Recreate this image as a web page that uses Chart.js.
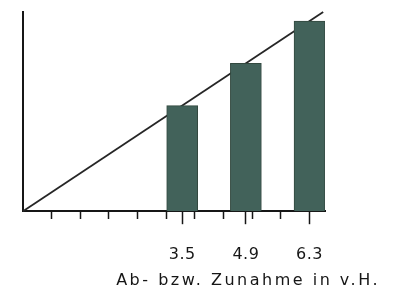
<!DOCTYPE html>
<html>
<head>
<meta charset="utf-8">
<script src="https://cdn.jsdelivr.net/npm/chart.js@4.4.1/dist/chart.umd.min.js"></script>
<style>
    html, body { margin: 0; padding: 0; background: #fff; }
    #wrap { width: 398px; height: 290px; position: relative; }
</style>
</head>
<body>
<div id="wrap"><canvas id="chart"></canvas></div>
<script>
// Values
const barValues = [3.5, 4.9, 6.3];          // x position and height of each bar
const lineX = [0, 6.6];                      // reference line y = x
const lineY = [0, 6.6];
const minorTicks = [0.63, 1.26, 1.89, 2.52, 3.15, 3.78, 4.41, 5.04, 5.67, 6.3];
const majorTicks = [3.5, 4.9, 6.3];
const axisTitle = 'Ab- bzw. Zunahme in v.H.';

const INK = '#161616';
const BAR = '#42625a';

const allTicks = [...new Set([...minorTicks, ...majorTicks])].sort((a, b) => a - b);

// wide lettering for the axis caption, tighter for the numbers (drawn after the bars)
const spacingPlugin = {
    id: 'spacing',
    beforeLayout(chart) { chart.ctx.letterSpacing = '2.5px'; },
    beforeDraw(chart) { chart.ctx.letterSpacing = '2.5px'; },
    afterDatasetsDraw(chart) { chart.ctx.letterSpacing = '0.5px'; }
};

new Chart(document.getElementById('chart'), {
    type: 'bar',
    data: {
        datasets: [
            {
                type: 'bar',
                data: barValues.map(v => ({ x: v, y: v })),
                backgroundColor: BAR,
                borderColor: '#33493f',
                borderWidth: 1,
                barThickness: 31,
                order: 1
            },
            {
                type: 'line',
                data: lineX.map((x, i) => ({ x: x, y: lineY[i] })),
                borderColor: '#262626',
                borderWidth: 1.8,
                pointRadius: 0,
                clip: false,
                order: 2
            }
        ]
    },
    options: {
        responsive: true,
        maintainAspectRatio: false,
        animation: false,
        layout: { padding: { left: 23, right: 18, top: 12, bottom: 0 } },
        plugins: {
            legend: { display: false },
            tooltip: { enabled: false },
            title: {
                display: true,
                text: axisTitle,
                position: 'bottom',
                align: 'end',
                color: INK,
                font: { family: 'DejaVu Sans', size: 16, weight: 'normal' },
                padding: { top: 6, bottom: 0 }
            }
        },
        scales: {
            x: {
                type: 'linear',
                min: 0,
                max: 6.64,
                offset: false,
                afterBuildTicks: (scale) => {
                    scale.ticks = allTicks.map(v => ({ value: v }));
                },
                afterFit: (scale) => { scale.height = 53.6; },
                ticks: {
                    autoSkip: false,
                    maxRotation: 0,
                    padding: 21,
                    z: 1,
                    color: INK,
                    font: { family: 'DejaVu Sans', size: 16 },
                    callback: (v) => majorTicks.includes(v) ? v.toFixed(1) : ''
                },
                grid: {
                    offset: false,
                    drawOnChartArea: false,
                    drawTicks: true,
                    tickLength: 13,
                    tickColor: INK,
                    tickWidth: 1.5,
                    tickBorderDash: (ctx) => (ctx.tick && majorTicks.includes(ctx.tick.value)) ? [] : [7, 20]
                },
                border: { display: true, color: INK, width: 2 }
            },
            y: {
                min: 0,
                max: 6.6,
                ticks: { display: false },
                grid: { display: false, drawTicks: false },
                border: { display: true, color: INK, width: 2 }
            },
            yPad: {
                position: 'right',
                display: true,
                ticks: { display: false },
                grid: { display: false, drawTicks: false },
                border: { display: false },
                afterFit: (scale) => { scale.width = 55; }
            }
        }
    },
    plugins: [spacingPlugin]
});
</script>
</body>
</html>
